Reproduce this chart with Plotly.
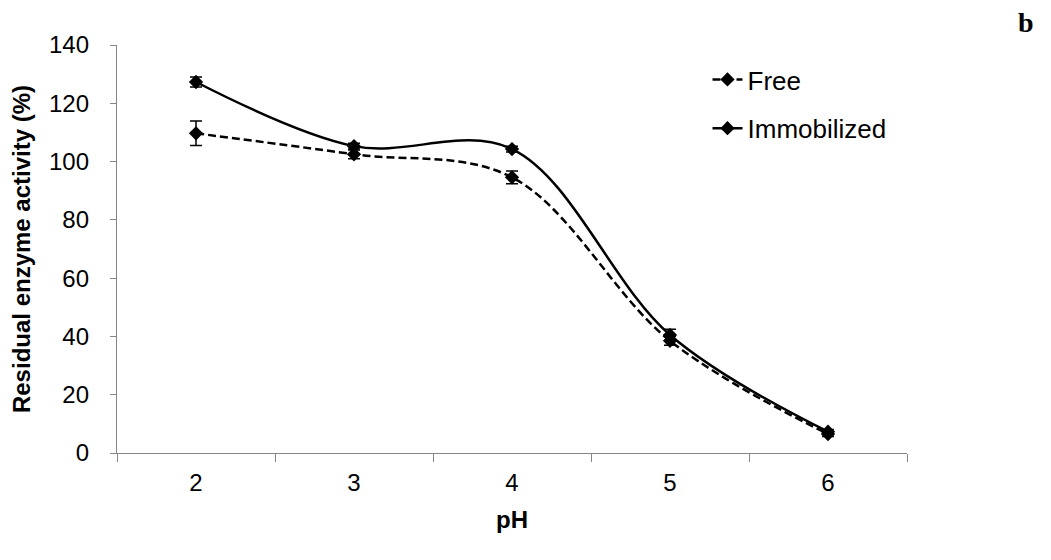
import plotly.graph_objects as go

ph = ["2", "3", "4", "5", "6"]
free = [109.7, 102.5, 94.6, 38.5, 6.5]
free_err = [4.2, 1.5, 2.2, 1.5, 0.8]
immob = [127.3, 105.3, 104.3, 40.5, 7.3]
immob_err = [1.7, 1.0, 1.0, 2.0, 0.8]

L, R, T, B = 107, 152, 37, 115
W, H = 1051, 560
PW, PH = W - L - R, H - T - B

fig = go.Figure()
fig.add_trace(go.Scatter(
    x=ph, y=free, name="Free", mode="lines+markers", legendgroup="a",
    line=dict(color="black", width=2.5, dash="8px,4px", shape="spline", smoothing=1),
    marker=dict(symbol="diamond", size=11, color="black"),
    error_y=dict(type="data", array=free_err, visible=True, color="black", thickness=1.5, width=6),
))
fig.add_trace(go.Scatter(
    x=ph, y=immob, name="Immobilized", mode="lines+markers", legendgroup="b",
    line=dict(color="black", width=2.5, shape="spline", smoothing=1),
    marker=dict(symbol="diamond", size=11, color="black"),
    error_y=dict(type="data", array=immob_err, visible=True, color="black", thickness=1.5, width=6),
))

fig.update_layout(
    width=W, height=H,
    margin=dict(l=L, r=R, t=T, b=B),
    paper_bgcolor="white", plot_bgcolor="white",
    font=dict(family="Liberation Sans, Arial", color="black", size=24),
    legend=dict(x=(699 - L) / PW, y=1 - (48 - T) / PH, xanchor="left", yanchor="top",
                font=dict(size=26), tracegroupgap=12, bgcolor="rgba(0,0,0,0)"),
    annotations=[dict(text="<b>b</b>", x=(1018 - L) / PW, y=(H - B - 15) / PH,
                      xref="paper", yref="paper", xanchor="center", yanchor="middle",
                      showarrow=False,
                      font=dict(family="Liberation Serif, Times New Roman", size=28))],
)

fig.update_xaxes(
    type="category", range=[-0.5, 4.5], tickson="boundaries",
    showline=True, linecolor="#868686", linewidth=1.3,
    ticks="outside", ticklen=8, tickcolor="#868686", tickwidth=1.3,
    showgrid=False, zeroline=False, ticklabelstandoff=8,
    title=dict(text="<b>pH</b>", font=dict(size=24), standoff=16),
)
fig.update_yaxes(
    range=[0, 140], dtick=20, tick0=0,
    showline=True, linecolor="#868686", linewidth=1.3,
    ticks="outside", ticklen=6, tickcolor="#868686", tickwidth=1.3,
    showgrid=False, zeroline=False, ticklabelstandoff=16,
    title=dict(text="<b>Residual enzyme activity (%)</b>", font=dict(size=24), standoff=12),
)

fig.write_html("out.html")
